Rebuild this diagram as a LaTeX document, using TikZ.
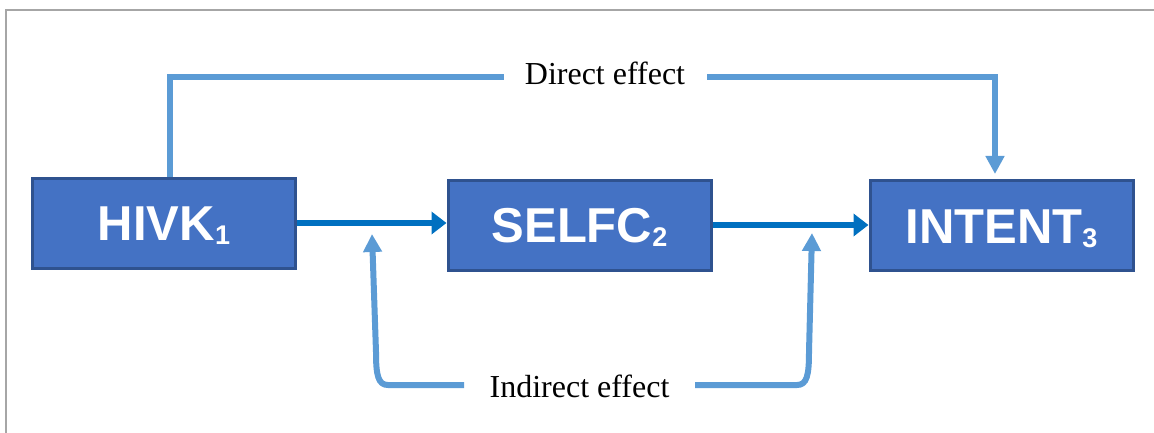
\documentclass[tikz,border=0pt]{standalone}
\usepackage{fontspec}
\setmainfont{Liberation Serif}
\newfontfamily\boxfont{Liberation Sans}
\usetikzlibrary{arrows.meta}
\definecolor{boxfill}{HTML}{4472C4}
\definecolor{boxline}{HTML}{2F528F}
\definecolor{mainarrow}{HTML}{0070C0}
\definecolor{lightarrow}{HTML}{5B9BD5}
\definecolor{framegray}{HTML}{A6A6A6}
\tikzset{
  varbox/.style={draw=boxline, fill=boxfill, line width=3pt, minimum width=263pt,
    minimum height=90pt, inner sep=0pt, text=white, text height=35pt, text depth=0pt,
    font=\boxfont\bfseries\fontsize{49}{50}\selectfont},
  mainconn/.style={draw=mainarrow, line width=6pt, -{Triangle[width=22pt,length=15pt]}},
  effconn/.style={draw=lightarrow, line width=6pt},
  effarrow/.style={effconn, -{Triangle[width=18pt,length=18pt]}},
  efflabel/.style={anchor=base, inner sep=0pt, font=\fontsize{32}{36}\selectfont},
}
\newcommand{\subnum}[1]{\raisebox{-4pt}{\fontsize{27}{28}\selectfont #1}}
\begin{document}
\begin{tikzpicture}[x=1pt,y=-1pt]
\useasboundingbox (0,0) rectangle (1154,433);
% frame
\draw[framegray, line width=1.5pt] (6,433) -- (6,10) -- (1154,10);
% boxes
\node[varbox] (b1) at (164,223) {HIVK\subnum{1}};
\node[varbox] (b2) at (579.5,225) {SELFC\subnum{2}};
\node[varbox] (b3) at (1001.5,225.5) {INTENT\subnum{3}};
% main arrows
\draw[mainconn] (b1.east) -- (b1.east -| b2.west);
\draw[mainconn] (b2.east) -- (b2.east -| b3.west);
% labels
\node[efflabel] (de) at (605,85) {Direct effect};
\node[efflabel] (ie) at (579.5,397) {Indirect effect};
% direct effect
\coordinate (d1) at (170,77);
\coordinate (d2) at (995,77);
\coordinate (d3) at (504,77);
\coordinate (d4) at (707,77);
\draw[effconn] (b1.north -| d1) -- (d1) -- (d3);
\draw[effarrow] (d4) -- (d2) -- (995,174);
% indirect effect
\coordinate (i1) at (464,385);
\coordinate (i2) at (372,234);
\coordinate (i3) at (695,385);
\coordinate (i4) at (812,233);
\draw[effarrow] (i1) -- (388,385) .. controls (378,385) and (376,375) .. (376,352) -- (i2);
\draw[effarrow] (i3) -- (797,385) .. controls (807,385) and (809,375) .. (809,352) -- (i4);
\end{tikzpicture}
\end{document}
